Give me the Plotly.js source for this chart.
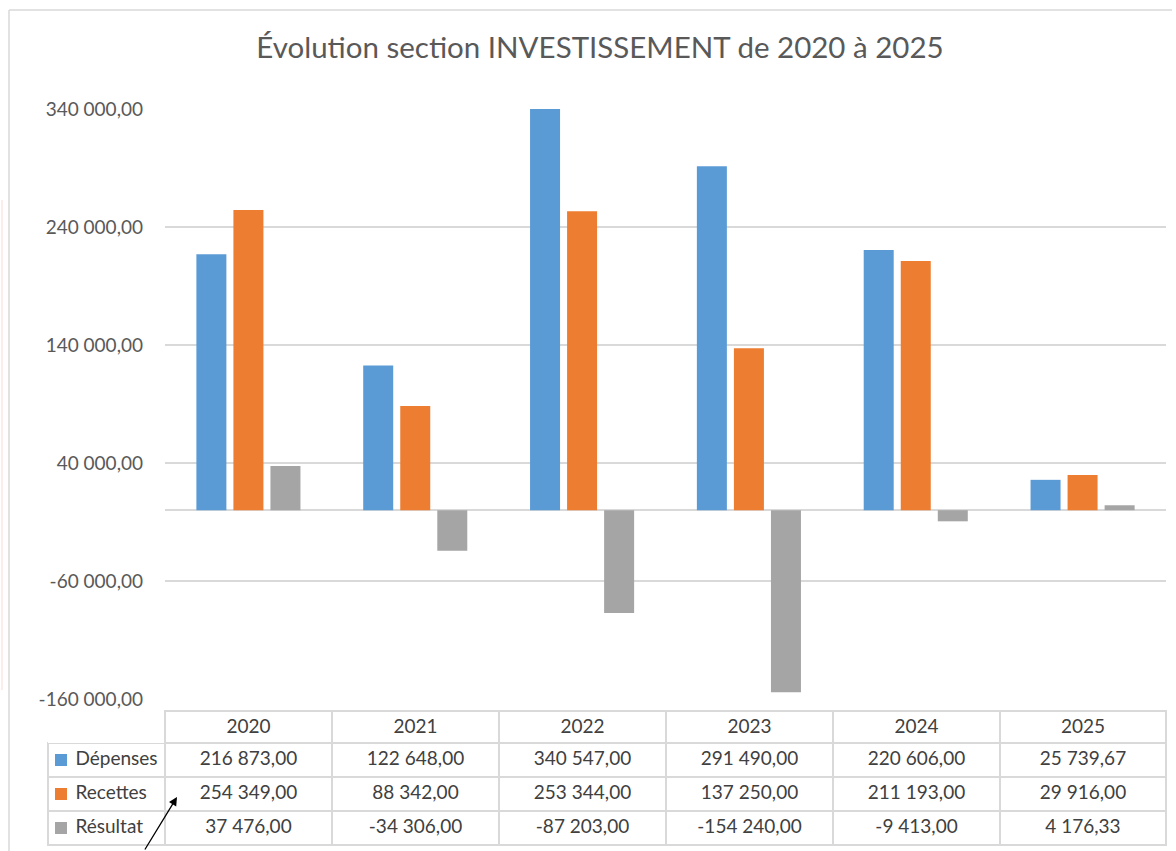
<!DOCTYPE html>
<html>
<head>
<meta charset="utf-8">
<script src="https://cdn.plot.ly/plotly-3.0.1.min.js"></script>
<style>html,body{margin:0;padding:0;background:#fff;}#chart{width:1176px;height:851px;}</style>
</head>
<body>
<div id="chart"></div>
<script>
const years = ['2020', '2021', '2022', '2023', '2024', '2025'];
const depenses = [216873, 122648, 340547, 291490, 220606, 25739.67];
const recettes = [254349, 88342, 253344, 137250, 211193, 29916];
const resultat = [37476, -34306, -87203, -154240, -9413, 4176.33];
const seriesNames = ['Dépenses', 'Recettes', 'Résultat'];
const seriesColors = ['#5B9BD5', '#ED7D31', '#A5A5A5'];
const tickValues = [-160000, -60000, 40000, 140000, 240000, 340000];
const tickLabels = ['-160 000,00', '-60 000,00', '40 000,00', '140 000,00', '240 000,00', '340 000,00'];

const W = 1176, H = 851;
const px = v => v / W;
const py = v => 1 - v / H;
const FONT = 'Lato, "Open Sans", sans-serif';

function fmt(v) {
  const neg = v < 0;
  const s = Math.abs(v).toFixed(2);
  let [ip, dp] = s.split('.');
  ip = ip.replace(/\B(?=(\d{3})+(?!\d))/g, ' ');
  return (neg ? '-' : '') + ip + ',' + dp;
}

const allSeries = [depenses, recettes, resultat];
const barTraces = allSeries.map((vals, i) => ({
  type: 'bar',
  name: seriesNames[i],
  x: years,
  y: vals,
  marker: { color: seriesColors[i] },
  hoverinfo: 'x+y+name'
}));

const NB = '\u00a0\u00a0\u00a0\u00a0';
const firstCol = seriesNames.map(n => NB + n);
const yearCols = years.map((y, j) => allSeries.map(s => fmt(s[j])));

const HEADER_TOP = 711, HEADER_H = 32, ROW_H = 34;

const tableTrace = {
  type: 'table',
  domain: { x: [px(48), px(1166)], y: [0, py(HEADER_TOP)] },
  columnwidth: [117, 167, 167, 167, 167, 167, 166],
  header: {
    values: [''].concat(years),
    align: 'center',
    height: HEADER_H,
    fill: { color: '#ffffff' },
    line: { color: ['rgba(255,255,255,0)'].concat(years.map(() => '#d9d9d9')), width: 1.5 },
    font: { family: FONT, size: 19, color: '#404040' }
  },
  cells: {
    values: [firstCol].concat(yearCols),
    align: ['left'].concat(years.map(() => 'center')),
    height: ROW_H,
    fill: { color: '#ffffff' },
    line: { color: '#d9d9d9', width: 1.5 },
    font: { family: FONT, size: 19, color: '#404040' }
  }
};

const legendKeys = seriesColors.map((c, i) => {
  const cy = HEADER_TOP + HEADER_H + ROW_H * i + ROW_H / 2;
  return { type: 'rect', xref: 'paper', yref: 'paper',
    x0: px(55), x1: px(67), y0: py(cy - 6), y1: py(cy + 6),
    fillcolor: c, line: { width: 0 } };
});

const layout = {
  width: W,
  height: H,
  margin: { l: 0, r: 0, t: 0, b: 0 },
  paper_bgcolor: '#ffffff',
  plot_bgcolor: '#ffffff',
  showlegend: false,
  barmode: 'group',
  bargap: 0.334,
  bargroupgap: 0.19,
  font: { family: FONT, color: '#595959' },
  title: {
    text: 'Évolution section INVESTISSEMENT de 2020 à 2025',
    font: { family: FONT, size: 29.5, color: '#595959' },
    x: 600 / W, xanchor: 'center',
    y: py(48), yanchor: 'middle', yref: 'container'
  },
  xaxis: {
    domain: [px(165), px(1166)],
    type: 'category',
    showticklabels: false,
    ticks: '',
    showgrid: false,
    showline: true,
    linecolor: '#ffffff',
    linewidth: 3,
    zeroline: false,
    fixedrange: true
  },
  yaxis: {
    domain: [py(699), py(109)],
    range: [-160000, 340000],
    tickvals: tickValues,
    ticktext: tickLabels,
    tickfont: { family: FONT, size: 19, color: '#595959' },
    ticks: '',
    ticklabelstandoff: 21,
    showgrid: true,
    gridcolor: '#d9d9d9',
    gridwidth: 1.5,
    zeroline: true,
    zerolinecolor: '#d9d9d9',
    zerolinewidth: 2,
    showline: false,
    automargin: false,
    fixedrange: true
  },
  shapes: [
    { type: 'line', xref: 'paper', yref: 'paper', x0: px(9), x1: px(1172), y0: py(10), y1: py(10), line: { color: '#d9d9d9', width: 1.5 } },
    { type: 'line', xref: 'paper', yref: 'paper', x0: px(9), x1: px(9), y0: py(10), y1: py(851), line: { color: '#d9d9d9', width: 1.5 } },
    { type: 'line', xref: 'paper', yref: 'paper', x0: px(2), x1: px(2), y0: py(200), y1: py(690), line: { color: '#fde6e6', width: 1.5 } }
  ].concat(legendKeys),
  annotations: [
    {
      xref: 'paper', yref: 'paper', x: px(177), y: py(797),
      axref: 'pixel', ayref: 'pixel', ax: -33, ay: 60,
      text: '', showarrow: true, arrowhead: 2, arrowsize: 1.3, arrowwidth: 1.3, arrowcolor: '#000000'
    }
  ]
};

Plotly.newPlot('chart', barTraces.concat([tableTrace]), layout, { displayModeBar: false, staticPlot: true });
</script>
</body>
</html>
